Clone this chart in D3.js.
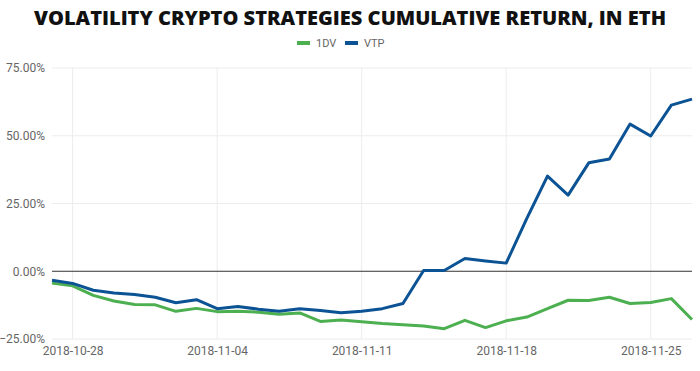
<!DOCTYPE html>
<html>
<head>
<meta charset="utf-8">
<script src="https://cdn.jsdelivr.net/npm/d3@7"></script>
<style>
  body { margin: 0; background: #fff; }
  #wrapper { width: 700px; height: 371px; }
</style>
</head>
<body>
<div id="wrapper"></div>
<script>
// daily dates, 2018-10-27 .. 2018-11-27
const dates = d3.timeDays(new Date(2018, 9, 27), new Date(2018, 10, 28))

// cumulative return, in %
const seriesNames = ["1DV", "VTP"]
const oneDV = [-4.3, -5.4, -8.9, -11.0, -12.3, -12.4, -14.8, -13.7, -14.9, -14.8,
  -15.1, -15.9, -15.4, -18.5, -18.0, -18.6, -19.3, -19.7, -20.2, -21.2,
  -18.1, -20.8, -18.3, -16.9, -13.8, -10.7, -10.8, -9.6, -11.9, -11.5,
  -10.1, -17.8]
const vtp = [-3.3, -4.5, -7.0, -8.0, -8.6, -9.6, -11.6, -10.5, -13.8, -13.0,
  -14.0, -14.8, -13.8, -14.5, -15.3, -14.8, -13.8, -11.9, 0.3, 0.3,
  4.7, 3.8, 3.0, 19.5, 35.1, 28.1, 40.0, 41.4, 54.3, 49.9,
  61.3, 63.5]
const yTicks = [-25, 0, 25, 50, 75]
const xTicks = ["2018-10-28", "2018-11-04", "2018-11-11", "2018-11-18", "2018-11-25"]

const colors = { "1DV": "#4caf50", "VTP": "#0b5394" }
const seriesData = { "1DV": oneDV, "VTP": vtp }

const dimensions = {
  width: 700,
  height: 371,
  margin: { top: 68, right: 8, bottom: 32, left: 52 },
}
dimensions.boundedWidth = dimensions.width - dimensions.margin.left - dimensions.margin.right
dimensions.boundedHeight = dimensions.height - dimensions.margin.top - dimensions.margin.bottom

const wrapper = d3.select("#wrapper")
  .append("svg")
    .attr("width", dimensions.width)
    .attr("height", dimensions.height)
    .style("font-family", "Roboto, sans-serif")

// title
wrapper.append("text")
    .attr("x", dimensions.width / 2)
    .attr("y", 25)
    .attr("text-anchor", "middle")
    .attr("textLength", 632)
    .attr("lengthAdjust", "spacingAndGlyphs")
    .style("font-family", "'Open Sans', sans-serif")
    .style("font-weight", 800)
    .style("font-size", "19px")
    .attr("fill", "#111")
    .text("VOLATILITY CRYPTO STRATEGIES CUMULATIVE RETURN, IN ETH")

// legend
const legend = wrapper.append("g")
    .attr("transform", "translate(297, 43)")
const legendItems = legend.selectAll("g")
  .data(seriesNames)
  .join("g")
    .attr("transform", (d, i) => `translate(${i * 48}, 0)`)
legendItems.append("rect")
    .attr("x", 0)
    .attr("y", -2)
    .attr("width", 13)
    .attr("height", 4)
    .attr("fill", d => colors[d])
legendItems.append("text")
    .attr("x", 19)
    .attr("y", 4)
    .style("font-size", "11px")
    .attr("fill", "#666")
    .text(d => d)

const bounds = wrapper.append("g")
    .attr("transform", `translate(${dimensions.margin.left}, ${dimensions.margin.top})`)

const xScale = d3.scaleTime()
    .domain(d3.extent(dates))
    .range([0, dimensions.boundedWidth])
const yScale = d3.scaleLinear()
    .domain([-25, 75])
    .range([dimensions.boundedHeight, 0])

const parseDate = d3.timeParse("%Y-%m-%d")

// grid
bounds.append("g")
  .selectAll("line")
  .data(yTicks.filter(d => d !== 0))
  .join("line")
    .attr("x1", 0)
    .attr("x2", dimensions.boundedWidth)
    .attr("y1", d => yScale(d))
    .attr("y2", d => yScale(d))
    .attr("stroke", "#ececec")
bounds.append("g")
  .selectAll("line")
  .data(xTicks)
  .join("line")
    .attr("x1", d => xScale(parseDate(d)))
    .attr("x2", d => xScale(parseDate(d)))
    .attr("y1", 0)
    .attr("y2", dimensions.boundedHeight)
    .attr("stroke", "#ececec")

// zero line
bounds.append("line")
    .attr("x1", 0)
    .attr("x2", dimensions.boundedWidth)
    .attr("y1", yScale(0))
    .attr("y2", yScale(0))
    .attr("stroke", "#333")
    .attr("stroke-width", 1)

// axes
const yAxis = bounds.append("g")
    .call(d3.axisLeft(yScale)
      .tickValues(yTicks)
      .tickSize(0)
      .tickPadding(7)
      .tickFormat(d => d3.format(".2f")(d) + "%"))
yAxis.select(".domain").remove()
yAxis.selectAll("text")
    .style("font-size", "12px")
    .style("font-family", "Roboto, sans-serif")
    .attr("fill", "#666")

const xAxis = bounds.append("g")
    .attr("transform", `translate(0, ${dimensions.boundedHeight})`)
    .call(d3.axisBottom(xScale)
      .tickValues(xTicks.map(parseDate))
      .tickSize(0)
      .tickPadding(7)
      .tickFormat(d3.timeFormat("%Y-%m-%d")))
xAxis.select(".domain").remove()
xAxis.selectAll("text")
    .style("font-size", "12px")
    .style("font-family", "Roboto, sans-serif")
    .attr("fill", "#666")

// lines
const lineGenerator = d3.line()
  .x((d, i) => xScale(dates[i]))
  .y(d => yScale(d))

seriesNames.forEach(name => {
  bounds.append("path")
      .attr("d", lineGenerator(seriesData[name]))
      .attr("fill", "none")
      .attr("stroke", colors[name])
      .attr("stroke-width", 3)
      .attr("stroke-linejoin", "round")
})
</script>
</body>
</html>
